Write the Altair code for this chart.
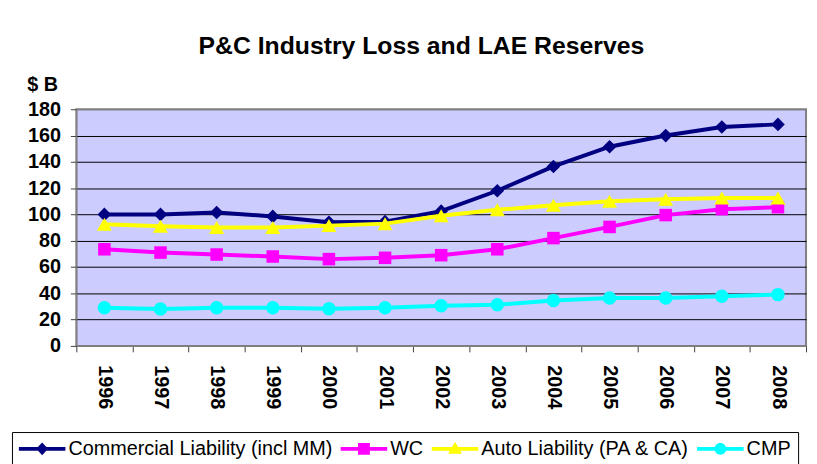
import altair as alt
import pandas as pd

years = [str(y) for y in range(1996, 2009)]
series_names = ["Commercial Liability (incl MM)", "WC", "Auto Liability (PA & CA)", "CMP"]
commercial = [100, 100, 101.5, 98.5, 94, 94.5, 102.5, 118, 136.5, 151.5, 160, 166.5, 168.5]
wc = [73.5, 71, 69.5, 68, 66, 67, 69, 73.5, 82, 90.5, 99.5, 104, 105.5]
auto = [92.5, 91, 90, 90, 91.5, 93, 99, 103.5, 107, 110, 111.5, 112.5, 112.5]
cmp_vals = [29, 28, 29, 29, 28.3, 29, 30.5, 31.3, 34.5, 36.5, 36.5, 37.8, 39]

colors = ["#000080", "#FF00FF", "#FFFF00", "#00FFFF"]
shapes = ["diamond", "square", "triangle-up", "circle"]
marker_sizes = [190, 160, 230, 185]

# legend symbols: a line with the marker in the middle (custom symbol paths)
LINE = "M-1,-0.2H3.7V0.2H-1Z"
legend_paths = [
    LINE + "M1.35,-0.65L1.95,0L1.35,0.65L0.75,0Z",
    LINE + "M0.75,-0.6H1.95V0.6H0.75Z",
    LINE + "M1.35,-0.72L2.05,0.5L0.65,0.5Z",
    LINE + "M0.75,0A0.6,0.6 0 1,1 1.95,0A0.6,0.6 0 1,1 0.75,0Z",
]

rows = []
for name, vals in zip(series_names, [commercial, wc, auto, cmp_vals]):
    for yr, v in zip(years, vals):
        rows.append({"year": yr, "series": name, "value": v})
df = pd.DataFrame(rows)

FONT = "Liberation Sans"

x_enc = alt.X(
    "year:O",
    sort=years,
    scale=alt.Scale(type="band", paddingInner=0, paddingOuter=0),
    axis=alt.Axis(
        title=None,
        tickBand="extent",
        labelAngle=90,
        labelAlign="left",
        labelBaseline="middle",
        labelFont=FONT,
        labelFontSize=20,
        labelFontWeight="bold",
        labelColor="#000000",
        labelPadding=13,
        tickSize=6,
        tickColor="#404040",
        domainColor="#808080",
        domainWidth=1,
        grid=False,
    ),
)
y_enc = alt.Y(
    "value:Q",
    scale=alt.Scale(domain=[0, 180], nice=False),
    axis=alt.Axis(
        title="$ B",
        titleAngle=0,
        titleAlign="left",
        titleBaseline="alphabetic",
        titleX=-50,
        titleY=-19,
        titleFont=FONT,
        titleFontSize=20,
        titleFontWeight="bold",
        titleColor="#000000",
        values=list(range(0, 181, 20)),
        labelFont=FONT,
        labelFontSize=20,
        labelFontWeight="bold",
        labelColor="#000000",
        labelPadding=10,
        tickSize=6,
        tickColor="#404040",
        domainColor="#808080",
        grid=True,
        gridColor={"condition": {"test": "datum.value === 0 || datum.value === 180", "value": "#808080"}, "value": "#000000"},
        gridWidth=1,
    ),
)

base = alt.Chart(df)
layers = []
for name, col, shp, sz in zip(series_names, colors, shapes, marker_sizes):
    sub = base.transform_filter(alt.datum.series == name)
    layers.append(sub.mark_line(color=col, strokeWidth=4).encode(x=x_enc, y=y_enc))
    layers.append(
        sub.mark_point(filled=True, shape=shp, size=sz, color=col, opacity=1).encode(x=x_enc, y=y_enc)
    )

leg = alt.Legend(
    title=None,
    orient="none",
    legendX=-65,
    legendY=326,
    direction="horizontal",
    columns=4,
    strokeColor="#000000",
    fillColor="#FFFFFF",
    padding=7,
    labelFont=FONT,
    labelFontSize=20,
    labelColor="#000000",
    labelLimit=500,
    labelOffset=30,
    columnPadding=8,
    symbolSize=400,
    symbolStrokeWidth=0,
    symbolOpacity=1,
)
legend_layer = base.transform_filter("false").mark_point(filled=True, opacity=1).encode(
    fill=alt.Fill("series:N", scale=alt.Scale(domain=series_names, range=colors), legend=leg),
    shape=alt.Shape("series:N", scale=alt.Scale(domain=series_names, range=legend_paths), legend=leg),
)

chart = alt.layer(*layers, legend_layer).properties(
    width=737,
    height=239,
    autosize=alt.AutoSizeParams(type="none"),
    padding={"left": 69, "top": 100, "right": 3, "bottom": 117},
    background="#FFFFFF",
    view=alt.ViewBackground(fill="#CCCCFF", stroke="#808080", strokeWidth=2),
    title=alt.TitleParams(
        "P&C Industry Loss and LAE Reserves",
        font=FONT,
        fontSize=25,
        fontWeight="bold",
        color="#000000",
        anchor="middle",
        frame="group",
        dx=-20,
        offset=16,
    ),
).configure_view(fill="#CCCCFF", stroke="#808080", strokeWidth=2)

chart.save("out.html", embed_options={"renderer": "svg", "actions": False})
